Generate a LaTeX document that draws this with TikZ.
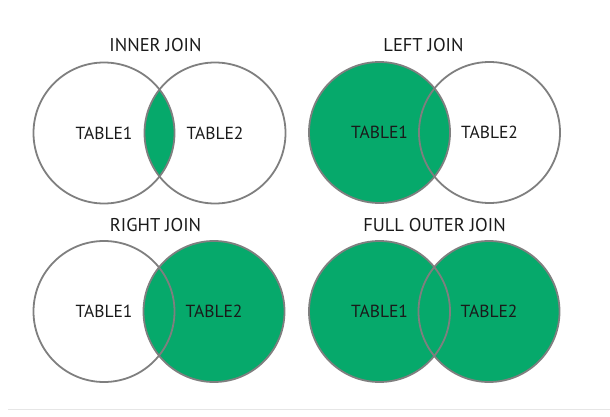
\documentclass[tikz,border=0pt]{standalone}
\usepackage{fontspec}
\setmainfont{PT Sans}
\definecolor{jgreen}{HTML}{06A96B}
\definecolor{jline}{HTML}{7F7F7F}
\definecolor{jtext}{HTML}{1A1A1A}
\definecolor{jrule}{HTML}{E6E6E6}
\begin{document}
\begin{tikzpicture}[x=1pt,y=-1pt,
  venn/.style={circle,draw=jline,line width=1.8pt,minimum size=141pt,inner sep=0pt,
    text=jtext,font=\fontsize{17.5}{20}\selectfont},
  ttl/.style={text=jtext,font=\fontsize{18.5}{21}\selectfont,inner sep=0pt},
  gfill/.style={fill=jgreen}]
\useasboundingbox (0,0) rectangle (610,417);
% centres
\coordinate (A1) at (104,133);   \coordinate (A2) at (215,133);
\coordinate (B1) at (379.5,132.5); \coordinate (B2) at (489.5,132.5);
\coordinate (C1) at (104,311.5); \coordinate (C2) at (214,311.5);
\coordinate (D1) at (379.5,311.5); \coordinate (D2) at (489,311.5);
% fills
\begin{scope}
  \clip (A1) circle (70.5pt);
  \fill[gfill] (A2) circle (70.5pt);
\end{scope}
\fill[gfill] (B1) circle (70.5pt);
\fill[gfill] (C2) circle (70.5pt);
\fill[gfill] (D1) circle (70.5pt);
\fill[gfill] (D2) circle (70.5pt);
% outlines with labels
\node[venn] (a1) at (A1) {TABLE1};
\node[venn] (a2) at (A2) {TABLE2};
\node[venn] (b1) at (B1) {TABLE1};
\node[venn] (b2) at (B2) {TABLE2};
\node[venn] (c1) at (C1) {TABLE1};
\node[venn] (c2) at (C2) {TABLE2};
\node[venn] (d1) at (D1) {TABLE1};
\node[venn] (d2) at (D2) {TABLE2};
% titles
\node[ttl] (ta) at (155.5,45) {INNER JOIN};
\node[ttl] (tb) at (423.5,45) {LEFT JOIN};
\node[ttl] (tc) at (155.5,225) {RIGHT JOIN};
\node[ttl] (td) at (434.5,225) {FULL OUTER JOIN};
% bottom rule
\coordinate (r0) at (8,409);
\coordinate (r1) at (610,409);
\draw[jrule,line width=1pt] (r0) -- (r1);
\end{tikzpicture}
\end{document}
